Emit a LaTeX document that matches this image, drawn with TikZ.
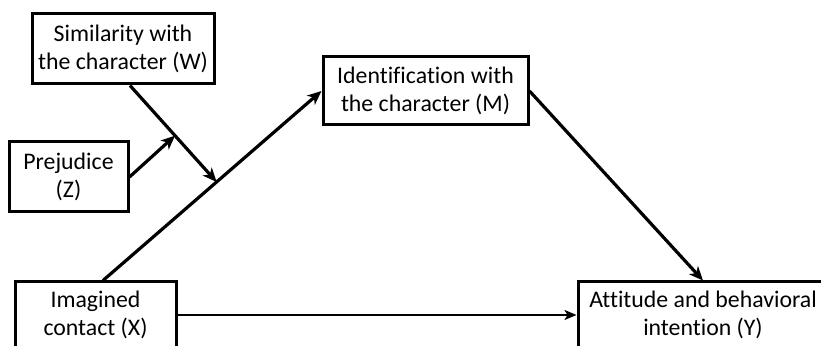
\documentclass[tikz,border=0pt]{standalone}
\usepackage{fontspec}
\setmainfont{Carlito}[Ligatures=NoCommon]
\usetikzlibrary{arrows.meta}
\begin{document}
\begin{tikzpicture}[x=1pt,y=1pt,
  box/.style={draw=black,line width=3pt,fill=white,align=center,inner sep=0pt,
    font=\fontsize{23.8}{28.5}\selectfont},
  conn/.style={line width=3.2pt,-{Stealth[length=14pt,width=12pt,inset=4pt]}},
  thinconn/.style={line width=2.2pt,-{Stealth[length=12pt,width=10pt,inset=3pt]}}]
\useasboundingbox (0,0) rectangle (821,345);
\clip (0,0) rectangle (821,345);
\node[box,minimum width=182pt,minimum height=70pt] (W) at (123,296) {Similarity with\\the character (W)};
\node[box,minimum width=119pt,minimum height=70pt] (Z) at (68.5,168) {Prejudice\\(Z)};
\node[box,minimum width=205pt,minimum height=68pt] (M) at (425.5,254) {Identification with\\the character (M)};
\node[box,minimum width=161pt,minimum height=66pt] (X) at (95.5,30) {Imagined\\contact (X)};
\node[box,minimum width=250pt,minimum height=66pt] (Y) at (703,30) {Attitude and behavioral\\intention (Y)};
\draw[conn] ([xshift=7.5pt]X.north) -- coordinate[pos=0.52] (P) (M.west);
\draw[conn] ([xshift=7pt]W.south) -- coordinate[pos=0.52] (Q) (P);
\draw[conn] (Z.east) -- (Q);
\draw[conn] (M.east) -- (Y.north);
\draw[thinconn] (X.east) -- (Y.west);
\end{tikzpicture}
\end{document}
